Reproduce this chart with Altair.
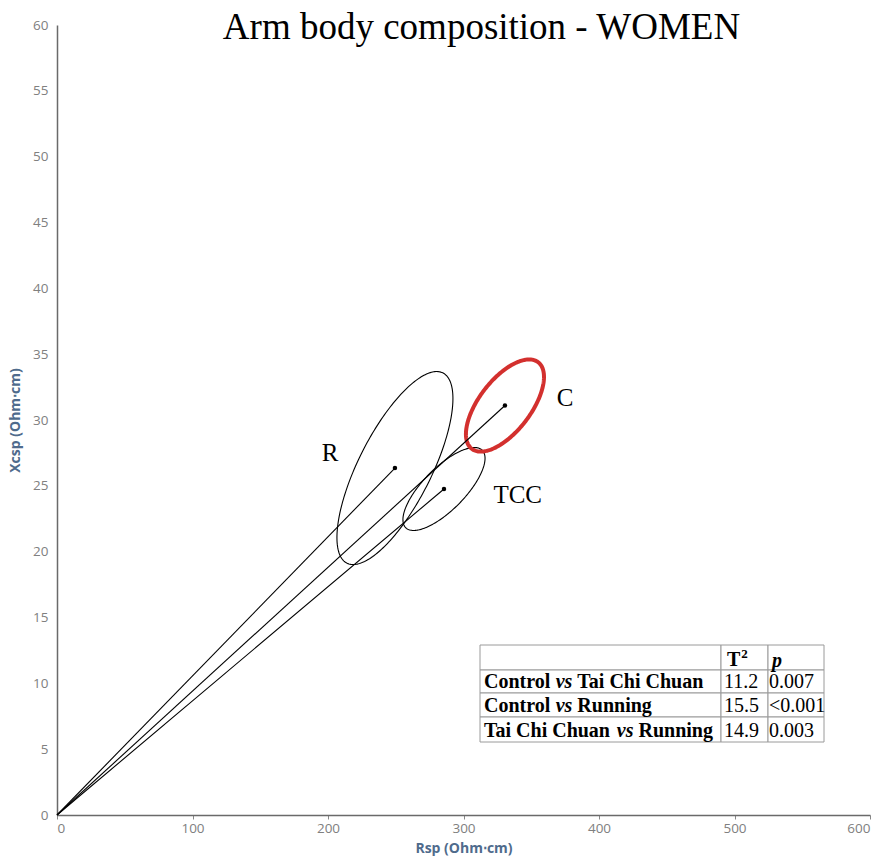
import altair as alt
import numpy as np
import pandas as pd

# ---------------- data ----------------
groups = ["C", "R", "TCC"]
rsp_mean = [330.6, 249.4, 285.6]
xcsp_mean = [31.1, 26.35, 24.76]
rsp_radius = [28.8, 42.8, 30.3]
xcsp_radius = [3.5, 7.33, 3.15]
correlation = [0.62, 0.72, 0.74]
label_rsp = [375.0, 201.5, 340.0]
label_xcsp = [31.7, 27.5, 24.3]
highlight_group = "C"

comparisons = ["Control vs Tai Chi Chuan", "Control vs Running", "Tai Chi Chuan vs Running"]
t2_values = ["11.2", "15.5", "14.9"]
p_values = ["0.007", "<0.001", "0.003"]

x_ticks = [0, 100, 200, 300, 400, 500, 600]
y_ticks = list(range(0, 61, 5))

# ---------------- layout ----------------
W, H = 813, 790
PAD = {"left": 57, "top": 25, "right": 15, "bottom": 44}
XMAX, YMAX = 600, 60


def px2x(px):
    return (px - PAD["left"]) * XMAX / W


def py2y(py):
    return (PAD["top"] + H - py) * YMAX / H


# ellipse outlines (confidence ellipses from mean / radius / correlation)
t = np.linspace(0, 2 * np.pi, 241)
rows = []
for g, cx, cy, rx, ry, rho in zip(groups, rsp_mean, xcsp_mean, rsp_radius, xcsp_radius, correlation):
    phi = np.arccos(rho)
    for i, tt in enumerate(t):
        rows.append({"group": g, "i": i, "x": cx + rx * np.cos(tt), "y": cy + ry * np.cos(tt - phi)})
ell = pd.DataFrame(rows)

means = pd.DataFrame({"group": groups, "x": rsp_mean, "y": xcsp_mean, "x0": 0.0, "y0": 0.0})
labels = pd.DataFrame({"group": groups, "x": label_rsp, "y": label_xcsp})

xs = alt.Scale(domain=[0, XMAX], nice=False, zero=True)
ys = alt.Scale(domain=[0, YMAX], nice=False, zero=True)

TITLE_COLOR = "#4f6b8c"
x_axis = alt.Axis(title="Rsp (Ohm\u22c5cm)", values=x_ticks, grid=False, tickSize=4, tickColor="#888",
                  labelPadding=2, titleY=37, titleBaseline="alphabetic")
y_axis = alt.Axis(title="Xcsp (Ohm\u22c5cm)", values=y_ticks, grid=False, ticks=False,
                  labelPadding=9, titleX=-38, titleBaseline="alphabetic")

ell_black = alt.Chart(ell).transform_filter(
    alt.datum.group != highlight_group
).mark_line(color="black", strokeWidth=1.1).encode(
    x=alt.X("x:Q", scale=xs, axis=x_axis),
    y=alt.Y("y:Q", scale=ys, axis=y_axis),
    detail="group:N",
    order="i:Q",
)
ell_red = alt.Chart(ell).transform_filter(
    alt.datum.group == highlight_group
).mark_line(color="#d3302e", strokeWidth=4).encode(
    x="x:Q", y="y:Q", detail="group:N", order="i:Q"
)

rays = alt.Chart(means).mark_rule(color="black", strokeWidth=1.1).encode(
    x="x0:Q", y="y0:Q", x2="x:Q", y2="y:Q"
)

dots = alt.Chart(means).mark_point(filled=True, color="black", size=20, opacity=1).encode(
    x="x:Q", y="y:Q"
)

group_labels = alt.Chart(labels).mark_text(
    font="Liberation Serif", fontSize=25, color="black", align="center", baseline="middle"
).encode(x="x:Q", y="y:Q", text="group:N")

# ---------------- table ----------------
COLS = [480, 721, 768, 824]
ROWS = [645, 670, 693, 717, 742]
FS = 20
BOLD_W = {" ": 250, "C": 722, "R": 722, "T": 667, "a": 500, "g": 500, "h": 556, "i": 278,
          "l": 278, "n": 556, "o": 500, "r": 444, "t": 333, "u": 556}
BI_W = {"v": 444, "s": 389}


def tw(s, table, size=FS):
    return sum(table[c] for c in s) * size / 1000


cells = []
for r in range(len(ROWS) - 1):
    for c in range(len(COLS) - 1):
        cells.append({"x": px2x(COLS[c]), "x2": px2x(COLS[c + 1]),
                      "y": py2y(ROWS[r]), "y2": py2y(ROWS[r + 1])})
cells = pd.DataFrame(cells)

bold_seg, ital_seg, reg_seg = [], [], []
for k, comp in enumerate(comparisons):
    left, right = comp.split(" vs ")
    base = ROWS[k + 2] - 5
    x0 = COLS[0] + 4
    xv = x0 + tw(left, BOLD_W) + tw(" ", BOLD_W)
    xr = xv + tw("vs", BI_W) + tw(" ", BOLD_W)
    bold_seg.append({"x": px2x(x0), "y": py2y(base), "text": left})
    ital_seg.append({"x": px2x(xv), "y": py2y(base), "text": "vs"})
    bold_seg.append({"x": px2x(xr), "y": py2y(base), "text": right})
    reg_seg.append({"x": px2x(COLS[1] + 3), "y": py2y(base), "text": t2_values[k]})
    reg_seg.append({"x": px2x(COLS[2] + 1), "y": py2y(base), "text": p_values[k]})

hb = ROWS[1] - 4
bold_seg.append({"x": px2x(COLS[1] + 6), "y": py2y(hb), "text": "T"})
ital_seg.append({"x": px2x(COLS[2] + 4), "y": py2y(hb + 1), "text": "p"})
sup = pd.DataFrame([{"x": px2x(COLS[1] + 6 + tw("T", BOLD_W) + 1), "y": py2y(hb - 8), "text": "2"}])

table_rects = alt.Chart(cells).mark_rect(fill="white", stroke="#9a9a9a", strokeWidth=1).encode(
    x="x:Q", x2="x2:Q", y="y:Q", y2="y2:Q"
)
txt_kw = dict(font="Liberation Serif", fontSize=FS, color="black", align="left", baseline="alphabetic")
t_bold = alt.Chart(pd.DataFrame(bold_seg)).mark_text(fontWeight="bold", **txt_kw).encode(
    x="x:Q", y="y:Q", text="text:N")
t_ital = alt.Chart(pd.DataFrame(ital_seg)).mark_text(fontWeight="bold", fontStyle="italic", **txt_kw).encode(
    x="x:Q", y="y:Q", text="text:N")
t_reg = alt.Chart(pd.DataFrame(reg_seg)).mark_text(**txt_kw).encode(
    x="x:Q", y="y:Q", text="text:N")
t_sup = alt.Chart(sup).mark_text(font="Liberation Serif", fontSize=13, fontWeight="bold", color="black",
                                 align="left", baseline="alphabetic").encode(x="x:Q", y="y:Q", text="text:N")

chart = alt.layer(
    ell_black, ell_red, rays, dots, group_labels, table_rects, t_bold, t_ital, t_reg, t_sup
).properties(
    width=W, height=H,
    padding=PAD,
    autosize=alt.AutoSizeParams(type="none"),
    title=alt.Title(text="Arm body composition - WOMEN", font="Liberation Serif", fontSize=37,
                    fontWeight="normal", color="black", anchor="middle", frame="group",
                    offset=0, baseline="alphabetic", dy=58, dx=18),
).configure_view(stroke=None).configure_axis(
    domainColor="#6a6a6a", domainWidth=1.5,
    labelFont="Open Sans", labelFontSize=13.5, labelColor="#808080",
    titleFont="Open Sans", titleFontSize=14, titleFontWeight="bold", titleColor=TITLE_COLOR,
)

chart.save("out.html", embed_options={"renderer": "svg", "actions": False})
